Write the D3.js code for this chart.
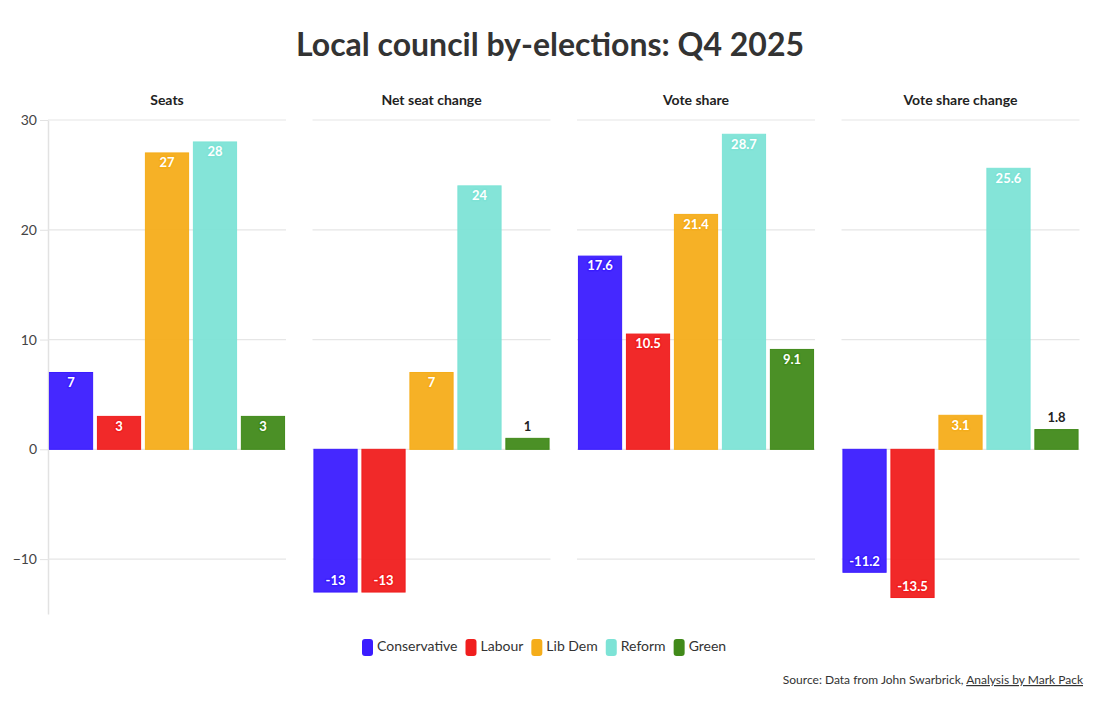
<!DOCTYPE html>
<html>
<head>
<meta charset="utf-8">
<script src="https://cdn.jsdelivr.net/npm/d3@7"></script>
<style>
  body { margin: 0; background: #fff; }
  text { font-family: Lato, "Open Sans", sans-serif; }
</style>
</head>
<body>
<svg id="chart" width="1100" height="703"></svg>
<script>
var parties = ["Conservative", "Labour", "Lib Dem", "Reform", "Green"];
var colours = ["#3b1cff", "#f01e1e", "#f5ad1a", "#7de3d6", "#418a1a"];
var panelTitles = ["Seats", "Net seat change", "Vote share", "Vote share change"];

var seats = [7, 3, 27, 28, 3];
var netSeatChange = [-13, -13, 7, 24, 1];
var voteShare = [17.6, 10.5, 21.4, 28.7, 9.1];
var voteShareChange = [-11.2, -13.5, 3.1, 25.6, 1.8];

var yTicks = [-10, 0, 10, 20, 30];

var panels = [seats, netSeatChange, voteShare, voteShareChange];

var svg = d3.select("svg#chart");

var plotTop = 120, plotBottom = 614;
var panelLeft = 48, panelWidth = 238, panelGap = 26.5;

var y = d3.scaleLinear()
  .domain([-15, 30])
  .range([plotBottom, plotTop]);

var colour = d3.scaleOrdinal()
  .domain(parties)
  .range(colours);

// Title
svg.append("text")
  .attr("x", 550)
  .attr("y", 56)
  .attr("text-anchor", "middle")
  .attr("font-size", 32)
  .attr("font-weight", "bold")
  .attr("fill", "#333")
  .text("Local council by-elections: Q4 2025");

// Y axis
var yAxis = svg.append("g")
  .attr("transform", "translate(" + panelLeft + ",0)")
  .call(d3.axisLeft(y).tickValues(yTicks).tickSizeInner(8).tickSizeOuter(0).tickPadding(3));

yAxis.select(".domain").attr("stroke", "#e2e2e2").attr("stroke-width", 1.5);
yAxis.selectAll(".tick line").attr("stroke", "#e2e2e2");
yAxis.selectAll(".tick text")
  .attr("font-size", 14)
  .attr("fill", "#444")
  .attr("font-family", "Lato, sans-serif");

panels.forEach(function(values, p) {
  var x0 = panelLeft + p * (panelWidth + panelGap);
  var g = svg.append("g").attr("transform", "translate(" + x0 + ",0)");

  var x = d3.scaleBand()
    .domain(parties)
    .range([0, panelWidth])
    .paddingInner(0.1)
    .paddingOuter(0.03);

  // Gridlines
  g.selectAll("line.grid")
    .data(yTicks)
    .enter().append("line")
    .attr("class", "grid")
    .attr("x1", 0)
    .attr("x2", panelWidth)
    .attr("y1", d => y(d))
    .attr("y2", d => y(d))
    .attr("stroke", "#e6e6e6")
    .attr("stroke-width", 1.2);

  // Panel title
  g.append("text")
    .attr("x", panelWidth / 2)
    .attr("y", 105)
    .attr("text-anchor", "middle")
    .attr("font-size", 14)
    .attr("font-weight", "bold")
    .attr("fill", "#222")
    .text(panelTitles[p]);

  var data = values.map((v, i) => ({ party: parties[i], value: v }));

  // Bars
  g.selectAll("rect.bar")
    .data(data)
    .enter().append("rect")
    .attr("class", "bar")
    .attr("x", d => x(d.party))
    .attr("width", x.bandwidth())
    .attr("y", d => y(Math.max(0, d.value)))
    .attr("height", d => Math.abs(y(d.value) - y(0)))
    .attr("fill", d => colour(d.party))
    .attr("fill-opacity", 0.95)
    .attr("stroke", d => colour(d.party))
    .attr("stroke-width", 1);

  // Labels
  g.selectAll("text.barLabel")
    .data(data)
    .enter().append("text")
    .attr("class", "barLabel")
    .each(function(d) {
      var h = Math.abs(y(d.value) - y(0));
      var inside = h > 25;
      var ty;
      if (d.value >= 0) {
        ty = inside ? y(d.value) + 11 : y(d.value) - 11;
      } else {
        ty = inside ? y(d.value) - 10 : y(d.value) + 11;
      }
      var t = d3.select(this)
        .attr("x", x(d.party) + x.bandwidth() / 2)
        .attr("y", ty)
        .attr("dominant-baseline", "middle")
        .attr("text-anchor", "middle")
        .attr("font-size", 13)
        .attr("font-weight", "bold")
        .text(d.value);
      if (inside) {
        t.attr("fill", "#fff")
          .attr("stroke", colour(d.party))
          .attr("stroke-width", 3)
          .attr("paint-order", "stroke")
          .attr("stroke-linejoin", "round");
      } else {
        t.attr("fill", "#222");
      }
    });
});

// Legend
var legend = svg.append("g").attr("transform", "translate(0,647)");
var lx = 362;
parties.forEach(function(name, i) {
  var item = legend.append("g").attr("transform", "translate(" + lx + ",0)");
  item.append("rect")
    .attr("x", 0)
    .attr("y", -8)
    .attr("width", 11)
    .attr("height", 17)
    .attr("rx", 3)
    .attr("fill", colours[i]);
  var t = item.append("text")
    .attr("x", 15)
    .attr("y", 0)
    .attr("dominant-baseline", "middle")
    .attr("font-size", 14)
    .attr("fill", "#333")
    .text(name);
  lx += 15 + t.node().getComputedTextLength() + 8;
});

// Source
var source = svg.append("text")
  .attr("x", 1083)
  .attr("y", 684)
  .attr("text-anchor", "end")
  .attr("font-size", 12)
  .attr("fill", "#333");
source.append("tspan").text("Source: Data from John Swarbrick, ");
source.append("tspan")
  .attr("text-decoration", "underline")
  .text("Analysis by Mark Pack");
</script>
</body>
</html>
